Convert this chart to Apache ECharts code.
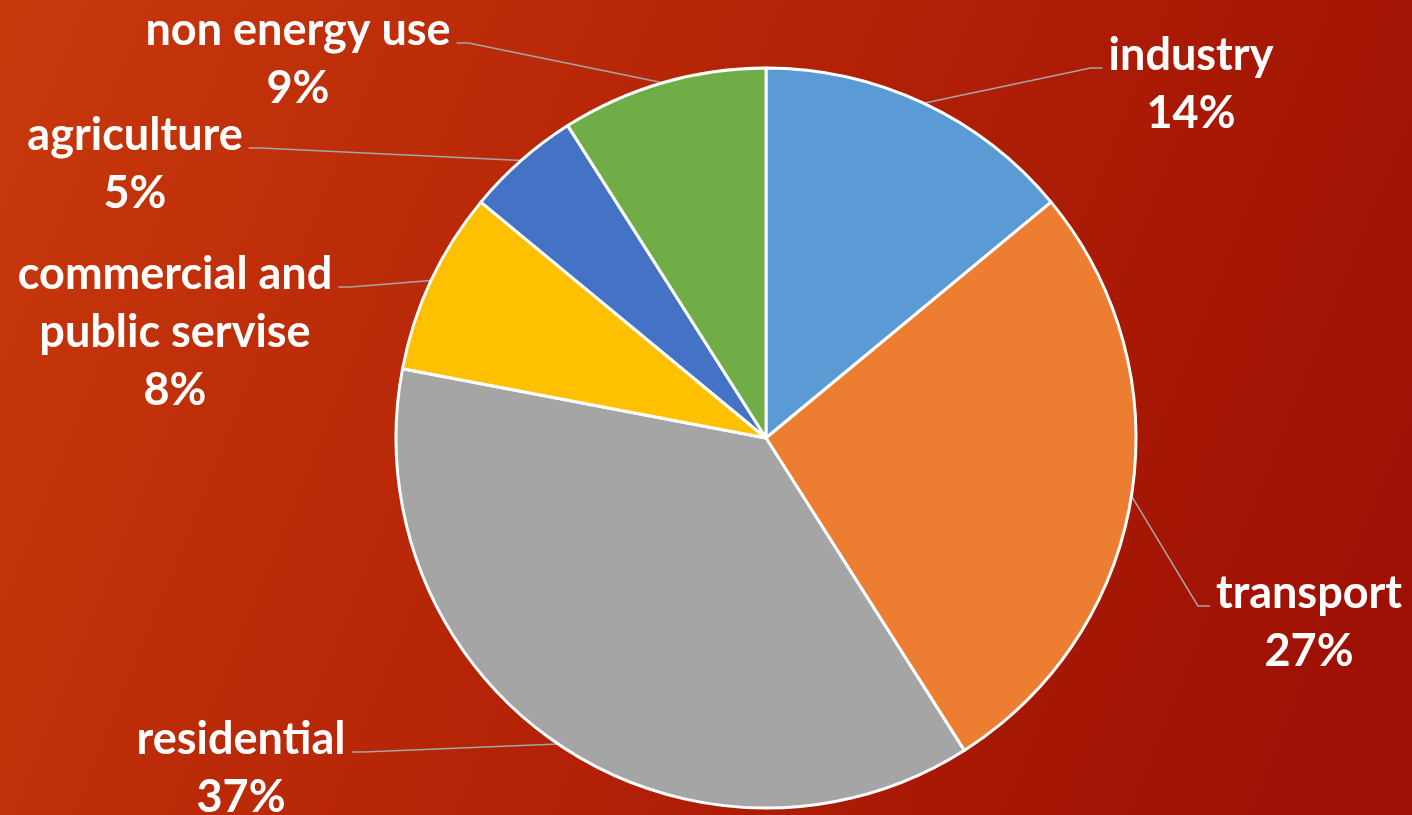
<!DOCTYPE html>
<html>
<head>
<meta charset="utf-8">
<title>energy use pie</title>
<script src="https://cdn.jsdelivr.net/npm/echarts@6/dist/echarts.min.js"></script>
<style>
  html, body { margin: 0; padding: 0; }
  #chart { width: 1412px; height: 815px; }
</style>
</head>
<body>
<div id="chart"></div>
<script>
// data (percent shares, clockwise from 12 o'clock)
const categories = [
  'industry',
  'transport',
  'residential',
  'commercial and\npublic servise',
  'agriculture',
  'non energy use'
];
const shares = [14, 27, 37, 8, 5, 9];
const sliceColors = ['#5b9bd5', '#ed7d31', '#a5a5a5', '#ffc000', '#4472c4', '#70ad47'];

// where each label sits: text centre x, y of the leader line end (px)
const labelSpots = [
  [1191, 68],
  [1309, 606],
  [241, 752],
  [175, 287],
  [135, 148],
  [298, 43]
];

const chart = echarts.init(document.getElementById('chart'));

const pieData = categories.map((name, i) => ({
  name: name,
  value: shares[i],
  itemStyle: { color: sliceColors[i] }
}));

const option = {
  backgroundColor: {
    type: 'linear',
    x: 0, y: 0, x2: 1, y2: 0.7,
    colorStops: [
      { offset: 0, color: '#c8390c' },
      { offset: 0.5, color: '#b42206' },
      { offset: 1, color: '#9d1004' }
    ]
  },
  animation: false,
  series: [
    {
      type: 'pie',
      center: [766, 438],
      radius: 370,
      startAngle: 90,
      clockwise: true,
      data: pieData,
      itemStyle: {
        borderColor: '#ffffff',
        borderWidth: 3
      },
      label: {
        show: true,
        position: 'outside',
        color: '#ffffff',
        fontFamily: 'Lato',
        fontWeight: 'bold',
        fontSize: 45,
        lineHeight: 58,
        align: 'center',
        formatter: p => p.name + '\n' + Math.round(p.percent) + '%'
      },
      labelLine: {
        show: true,
        lineStyle: { color: '#a6a6a6', width: 1.5 }
      },
      labelLayout: function (params) {
        const i = params.dataIndex;
        const spot = labelSpots[i];
        const w = params.labelRect.width;
        const start = params.labelLinePoints[0];
        const onRight = spot[0] > 766;
        const endX = onRight ? spot[0] - w / 2 - 6 : spot[0] + w / 2 + 6;
        const elbowX = onRight ? endX - 12 : endX + 12;
        return {
          x: spot[0],
          y: spot[1] - 42,
          align: 'center',
          verticalAlign: 'top',
          labelLinePoints: [start, [elbowX, spot[1]], [endX, spot[1]]]
        };
      }
    }
  ]
};

chart.setOption(option);
</script>
</body>
</html>
